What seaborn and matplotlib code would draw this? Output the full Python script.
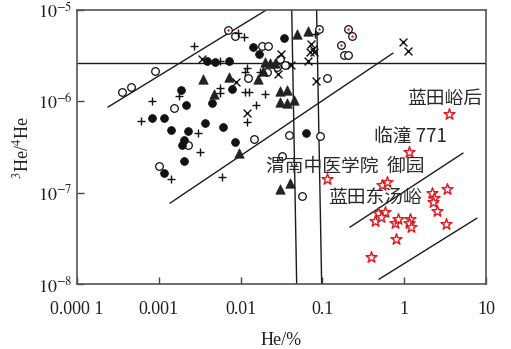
import matplotlib
matplotlib.use("Agg")
import matplotlib.pyplot as plt
import seaborn as sns
import pandas as pd

sns.set_style("ticks")
plt.rcParams['font.family'] = ['Liberation Serif', 'Noto Sans CJK SC', 'DejaVu Sans']
plt.rcParams['mathtext.fontset'] = 'stix'

# ---------------- data (He %, 3He/4He) ----------------
open_he = [3.55e-4, 4.57e-4, 9.0e-4, 8.55e-3, 0.0123, 1.53e-3, 2.28e-3, 1.0e-3, 0.0146,
           0.0183, 0.0216, 0.0303, 0.0279, 0.0349, 0.0210, 0.1138, 0.184, 0.206,
           0.0391, 0.0935, 0.0321, 0.0564]
open_ratio = [1.26e-6, 1.44e-6, 2.15e-6, 5.19e-6, 1.80e-6, 8.45e-7, 3.32e-7, 1.95e-7, 3.87e-7,
              4.04e-6, 4.04e-6, 2.90e-6, 2.38e-6, 2.50e-6, 2.10e-6, 1.80e-6, 3.21e-6, 3.21e-6,
              4.28e-7, 4.17e-7, 2.52e-7, 9.18e-8]

dot_he = [7.02e-3, 0.0908, 0.206, 0.230, 0.169]
dot_ratio = [6.04e-6, 6.19e-6, 6.19e-6, 5.19e-6, 4.14e-6]

fill_he = [3.88e-3, 4.86e-3, 7.21e-3, 0.0142, 0.0168, 1.87e-3, 2.15e-3, 4.47e-3, 7.85e-3,
           8.26e-4, 1.16e-3, 1.41e-3, 2.28e-3, 2.03e-3, 1.92e-3, 3.67e-3, 6.10e-3, 8.55e-3,
           2.03e-3, 1.16e-3, 0.034, 0.0631]
fill_ratio = [2.76e-6, 2.69e-6, 2.76e-6, 3.94e-6, 3.30e-6, 1.33e-6, 9.10e-7, 9.57e-7, 1.36e-6,
              6.56e-7, 6.56e-7, 4.85e-7, 4.73e-7, 3.77e-7, 3.32e-7, 5.78e-7, 5.24e-7, 3.58e-7,
              2.22e-7, 1.64e-7, 4.93e-6, 4.50e-7]

tri_he = [3.47e-3, 7.21e-3, 4.73e-3, 0.0163, 9.55e-3, 0.0489, 0.0667, 0.0199, 0.0229, 0.0263,
          0.0188, 0.0303, 0.0369, 0.0303, 0.0369, 0.045, 0.0303, 0.0402]
tri_ratio = [1.75e-6, 1.85e-6, 1.20e-6, 1.75e-6, 2.72e-7, 5.46e-6, 5.89e-6, 2.69e-6, 2.63e-6, 2.63e-6,
             2.15e-6, 1.30e-6, 1.33e-6, 9.82e-7, 9.57e-7, 1.03e-6, 1.09e-7, 1.27e-7]

plus_he = [2.69e-3, 9.29e-3, 0.0110, 5.6e-3, 0.0120, 0.0112, 5.6e-3, 5.6e-3, 0.0113, 0.0127,
           0.0154, 0.0120, 8.26e-4, 1.77e-3, 6.05e-4, 3.01e-3, 3.19e-3, 1.41e-3, 5.93e-3,
           0.0199, 0.0173, 0.0813]
plus_ratio = [4.04e-6, 5.60e-6, 5.06e-6, 2.76e-6, 2.32e-6, 2.12e-6, 1.40e-6, 1.23e-6, 1.26e-6, 1.26e-6,
              9.10e-7, 5.93e-7, 1.01e-6, 1.14e-6, 6.08e-7, 4.50e-7, 2.79e-7, 1.41e-7, 1.48e-7,
              1.20e-6, 2.10e-6, 5.46e-6]

cross_he = [3.38e-3, 8.79e-3, 0.0120, 0.0312, 0.0287, 0.0413, 0.0726, 0.0768, 0.0705, 0.0789,
            0.0667, 0.0836, 0.966, 1.11]
cross_ratio = [2.90e-6, 1.63e-6, 7.45e-7, 3.30e-6, 1.99e-6, 2.50e-6, 4.25e-6, 3.74e-6, 3.47e-6, 3.47e-6,
               2.76e-6, 1.67e-6, 4.47e-6, 3.56e-6]

star_he = [3.53, 1.15, 0.114, 0.536, 0.617, 3.34, 2.19, 2.31, 2.25, 2.52, 3.24, 0.479, 0.582,
           0.440, 0.520, 0.773, 0.840, 1.18, 1.15, 1.21, 0.795, 0.393]
star_ratio = [7.26e-7, 2.79e-7, 1.41e-7, 1.21e-7, 1.31e-7, 1.09e-7, 9.9e-8, 8.73e-8, 7.89e-8,
              6.28e-8, 4.53e-8, 5.98e-8, 6.14e-8, 4.89e-8, 5.41e-8, 4.65e-8, 5.14e-8, 5.14e-8,
              4.65e-8, 4.20e-8, 3.10e-8, 1.97e-8]

# reference lines (two end points each)
ref_lines = {
    "h":  ([1e-4, 10], [2.63e-6, 2.63e-6]),
    "v1": ([0.0422, 0.0485], [1e-5, 1e-8]),
    "v2": ([0.085, 0.098], [1e-5, 1e-8]),
    "dA": ([2.39e-4, 0.0205], [8.67e-7, 1e-5]),
    "dB": ([1.37e-3, 0.730], [7.69e-8, 3.38e-6]),
    "dC": ([0.217, 5.24], [4.20e-8, 2.72e-7]),
    "dD": ([0.492, 7.76], [1.13e-8, 5.27e-8]),
}

labels = ["蓝田峪后", "临潼 771", "渭南中医学院  御园", "蓝田东汤峪"]
label_he = [3.16, 1.18, 0.189, 0.44]
label_ratio = [1.09e-6, 4.17e-7, 1.95e-7, 8.95e-8]

xticks = [1e-4, 1e-3, 1e-2, 0.1, 1, 10]
xticklabels = ["0.000 1", "0.001", "0.01", "0.1", "1", "10"]
yticks = [1e-8, 1e-7, 1e-6, 1e-5]
yticklabels = ["$10^{-8}$", "$10^{-7}$", "$10^{-6}$", "$10^{-5}$"]

# ---------------- figure ----------------
fig = plt.figure(figsize=(5.11, 3.49), dpi=100)
ax = fig.add_axes([0.1507, 0.186, 0.8003, 0.785])
ax.set_xscale("log")
ax.set_yscale("log")

lc = "#1a1a1a"
for name, (xs, ys) in ref_lines.items():
    sns.lineplot(x=xs, y=ys, ax=ax, color=lc, linewidth=1.0, sort=False,
                 estimator=None, zorder=1)

mk = "#111111"
sns.scatterplot(x=open_he, y=open_ratio, ax=ax, marker="o", s=30, facecolor="white",
                edgecolor=mk, linewidth=0.9, zorder=3)
sns.scatterplot(x=dot_he, y=dot_ratio, ax=ax, marker="o", s=30, facecolor="white",
                edgecolor=mk, linewidth=0.9, zorder=3)
sns.scatterplot(x=dot_he, y=dot_ratio, ax=ax, marker="o", s=3, color="#e8141e",
                linewidth=0, zorder=4)
sns.scatterplot(x=fill_he, y=fill_ratio, ax=ax, marker="o", s=32, color=mk,
                edgecolor=mk, linewidth=0.5, zorder=3)
sns.scatterplot(x=tri_he, y=tri_ratio, ax=ax, marker="^", s=46, color="#222222",
                edgecolor="#222222", linewidth=0.5, zorder=3)
sns.scatterplot(x=plus_he, y=plus_ratio, ax=ax, marker="+", s=40, color=mk,
                linewidth=1.0, zorder=3)
sns.scatterplot(x=cross_he, y=cross_ratio, ax=ax, marker="x", s=32, color=mk,
                linewidth=1.0, zorder=3)
sns.scatterplot(x=star_he, y=star_ratio, ax=ax, marker="*", s=70, facecolor="white",
                edgecolor="#e8141e", linewidth=1.0, zorder=3)

for t, xh, yr in zip(labels, label_he, label_ratio):
    ax.text(xh, yr, t, ha="center", va="center", fontsize=13.5, color="#2a2a2a",
            family=["Noto Sans CJK SC", "DejaVu Sans"], zorder=5)

ax.set_xlim(1e-4, 10)
ax.set_ylim(1e-8, 1e-5)
ax.set_xticks(xticks)
ax.set_xticklabels(xticklabels)
ax.set_yticks(yticks)
ax.set_yticklabels(yticklabels)
ax.minorticks_off()
ax.tick_params(axis="both", direction="in", length=5, width=1, colors="#444444",
               labelcolor="#222222", labelsize=13)
ax.tick_params(axis="x", pad=12)
ax.tick_params(axis="y", pad=3)
for sp in ax.spines.values():
    sp.set_visible(True)
    sp.set_color("#555555")
    sp.set_linewidth(1.2)

ax.set_xlabel("He/%", fontsize=13, color="#222222", labelpad=10)
ax.set_ylabel("$^{3}$He/$^{4}$He", fontsize=13, color="#222222", labelpad=4)

fig.savefig("out.png", dpi=100)
